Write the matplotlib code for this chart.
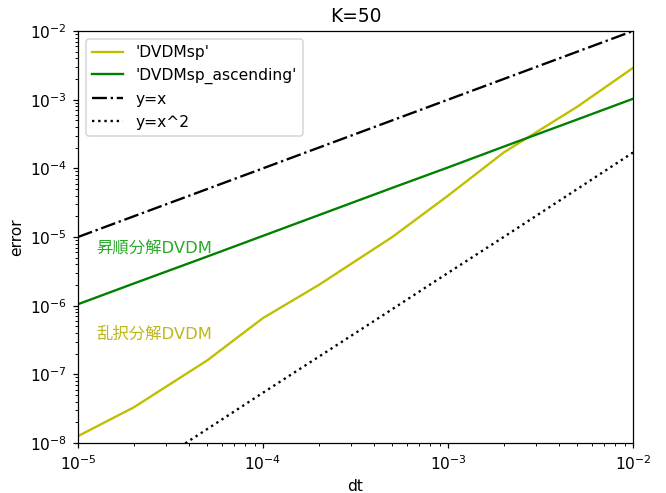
import matplotlib
matplotlib.use("Agg")
import matplotlib.pyplot as plt

dt = [1e-5, 2e-5, 5e-5, 1e-4, 2e-4, 5e-4, 1e-3, 2e-3, 5e-3, 1e-2]
err_sp = [1.26e-8, 3.3e-8, 1.6e-7, 6.6e-7, 2.0e-6, 1.0e-5, 4.0e-5, 1.7e-4, 7.9e-4, 2.9e-3]
err_asc = [1.05e-6, 2.1e-6, 5.2e-6, 1.04e-5, 2.08e-5, 5.2e-5, 1.03e-4, 2.07e-4, 5.15e-4, 1.03e-3]
ref1 = [1e-5, 2e-5, 5e-5, 1e-4, 2e-4, 5e-4, 1e-3, 2e-3, 5e-3, 1e-2]
ref2 = [9.5e-10, 3.2e-9, 1.6e-8, 5.4e-8, 1.8e-7, 8.9e-7, 3.0e-6, 1.0e-5, 5.0e-5, 1.7e-4]

plt.rcParams['font.family'] = ['DejaVu Sans', 'Noto Sans CJK JP']

fig = plt.figure(figsize=(666/112, 493/112), dpi=112)
ax = fig.add_axes([78/666, 50/493, 555/666, 412/493])
ax.plot(dt, err_sp, color='y', label="'DVDMsp'")
ax.plot(dt, err_asc, color='g', label="'DVDMsp_ascending'")
ax.plot(dt, ref1, 'k-.', label='y=x')
ax.plot(dt, ref2, 'k:', label='y=x^2')
ax.set_xscale('log')
ax.set_yscale('log')
ax.set_xlim(1e-5, 1e-2)
ax.set_ylim(1e-8, 1e-2)
ax.set_xlabel('dt')
ax.set_ylabel('error')
ax.set_title('K=50')
ax.legend(loc='upper left')
ax.text(1.25e-5, 6.8e-6, '昇順分解DVDM', color='#2aaa2a', fontsize=10.5,
        family=['DejaVu Sans', 'Noto Sans CJK JP'], va='center')
ax.text(1.25e-5, 3.9e-7, '乱択分解DVDM', color='#bdb81a', fontsize=10.5,
        family=['DejaVu Sans', 'Noto Sans CJK JP'], va='center')
fig.savefig('out.png', dpi=112)
